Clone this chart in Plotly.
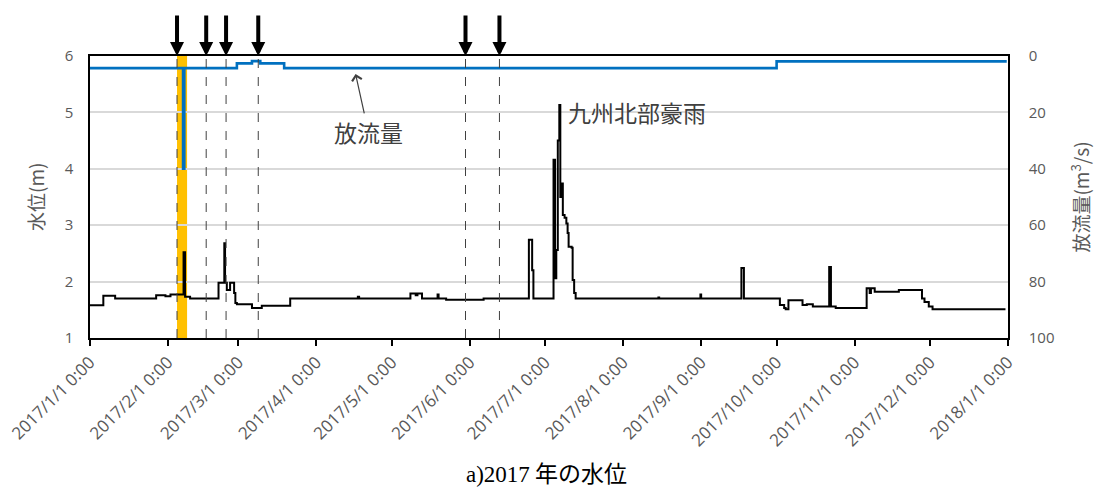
import pandas as pd
import plotly.graph_objects as go

START = pd.Timestamp("2017-01-01")

# Water level (m), day-of-year offsets from 2017/1/1 (step series)
level_day = [0, 5.3, 10.0, 26.3, 30.0, 32.0, 37.2, 37.8, 39.8, 51.1, 53.4, 53.7, 54.4, 55.7,
             57.3, 57.8, 58.4, 64.4, 68.3, 79.6, 106.5, 107.0, 127.4, 129.5, 130.2, 132.0,
             138.2, 138.6, 141.6, 156.5, 174.5, 175.8, 176.3, 184.3, 184.9, 185.4, 186.0,
             186.6, 187.0, 187.6, 188.0, 188.7, 189.4, 189.9, 190.3, 191.5, 191.9, 192.5,
             193.1, 226.0, 226.3, 242.7, 243.0, 259.0, 260.0, 274.3, 276.0, 276.6, 277.7,
             283.3, 285.0, 287.4, 293.9, 294.6, 296.5, 308.8, 310.0, 310.5, 312.0, 321.6,
             330.8, 331.8, 333.5, 335.0, 364.0]
level_m = [1.58, 1.75, 1.70, 1.76, 1.74, 1.77, 2.52, 1.73, 1.70, 1.98, 2.68, 1.98, 1.85, 1.98,
           1.80, 1.62, 1.60, 1.53, 1.57, 1.70, 1.73, 1.70, 1.79, 1.76, 1.79, 1.70,
           1.77, 1.70, 1.68, 1.70, 2.74, 2.20, 1.70, 4.16, 2.06, 2.56, 4.50,
           5.13, 3.50, 3.74, 3.18, 3.13, 3.03, 2.86, 2.62, 2.60, 2.03, 1.80,
           1.70, 1.72, 1.70, 1.77, 1.70, 2.24, 1.70, 1.585, 1.53, 1.51, 1.67,
           1.585, 1.60, 1.56, 2.26, 1.56, 1.53, 1.88, 1.80, 1.88, 1.82, 1.85,
           1.70, 1.64, 1.56, 1.51, 1.51]

# Discharge (m3/s), right axis (reversed)
flow_day = [0, 37.0, 37.5, 58.4, 64.4, 67.7, 77.2, 273.0, 364.5]
flow_q = [4.3, 40.0, 4.3, 2.6, 1.8, 2.6, 4.3, 1.9, 1.9]

# Event markers
arrow_day = [34.6, 46.2, 54.1, 66.9, 149.3, 162.8]
band_day = [34.6, 38.6]

month_ticks = pd.date_range("2017-01-01", "2018-01-01", freq="MS")
tick_text = [f"{d.year}/{d.month}/{d.day} 0:00" for d in month_ticks]


def to_dt(days):
    return [START + pd.Timedelta(days=d) for d in days]


GRAY = "#595959"
CJK = "Noto Sans CJK JP"
NUM = "Open Sans"

fig = go.Figure()

fig.add_trace(go.Scatter(x=to_dt(level_day), y=level_m, mode="lines",
                         line=dict(color="black", width=2, shape="hv"),
                         showlegend=False))
fig.add_trace(go.Scatter(x=to_dt(flow_day), y=flow_q, mode="lines", yaxis="y2",
                         line=dict(color="#0070C0", width=2.6, shape="hv"),
                         showlegend=False))

b0, b1 = to_dt(band_day)
fig.add_shape(type="rect", xref="x", yref="y domain", x0=b0, x1=b1, y0=0, y1=1,
              fillcolor="#FFC000", line=dict(width=0), layer="below")

for d in to_dt(arrow_day):
    fig.add_shape(type="line", xref="x", yref="y domain", x0=d, x1=d, y0=0, y1=1,
                  line=dict(color="#404040", width=1, dash="dash"), layer="above")
    fig.add_annotation(x=d, y=1, xref="x", yref="paper", ax=0, ay=-42, text="",
                       showarrow=True, arrowhead=2, arrowsize=0.7, arrowwidth=4,
                       arrowcolor="black", standoff=0)

fig.add_annotation(x=to_dt([189.1])[0], y=5.0, xref="x", yref="y", text="九州北部豪雨",
                   showarrow=False, xanchor="left", yanchor="middle",
                   font=dict(family=CJK, size=23, color="#404040"))
fig.add_annotation(x=to_dt([105.5])[0], y=6.0, xref="x", yref="y2", text="放流量",
                   showarrow=True, ax=13, ay=59, arrowhead=4, arrowwidth=1.2, arrowsize=1.6,
                   arrowcolor="#404040", standoff=1,
                   font=dict(family=CJK, size=23, color="#404040"))

# axis titles
fig.add_annotation(x=-0.06, y=0.5, xref="paper", yref="paper", text="水位(m)",
                   textangle=-90, showarrow=False, xanchor="center", yanchor="middle",
                   font=dict(family=CJK, size=19, color=GRAY))
fig.add_annotation(x=1.078, y=0.5, xref="paper", yref="paper", text="放流量(m<sup>3</sup>/s)",
                   textangle=-90, showarrow=False, xanchor="center", yanchor="middle",
                   font=dict(family=CJK, size=19, color=GRAY))

# caption
fig.add_annotation(x=0.497, y=-0.475, xref="paper", yref="paper",
                   text="<span style='font-family:Liberation Serif'>a)2017</span> 年の水位",
                   showarrow=False, xanchor="center", yanchor="middle",
                   font=dict(family=CJK, size=23, color="black"))

fig.update_layout(
    width=1094, height=488,
    margin=dict(l=90, r=86, t=56, b=150, autoexpand=False),
    plot_bgcolor="white", paper_bgcolor="white",
    xaxis=dict(range=[month_ticks[0], month_ticks[-1]], tickvals=list(month_ticks),
               ticktext=tick_text, tickangle=-45, ticks="outside", ticklen=6,
               tickcolor="black", tickwidth=1.5, showline=True, linecolor="black",
               linewidth=1.5, mirror=True, showgrid=False, zeroline=False, automargin=False,
               tickfont=dict(family=NUM, size=17, color=GRAY)),
    yaxis=dict(range=[1, 6], dtick=1, showgrid=True, gridcolor="#d9d9d9", gridwidth=1.5,
               showline=True, linecolor="black", linewidth=1.5, zeroline=False,
               ticks="", ticklabelstandoff=12, automargin=False,
               tickfont=dict(family=NUM, size=15, color=GRAY)),
    yaxis2=dict(range=[100, 0], dtick=20, overlaying="y", side="right", showgrid=False,
                showline=True, linecolor="black", linewidth=1.5, zeroline=False,
                ticks="", ticklabelstandoff=16, automargin=False,
                tickfont=dict(family=NUM, size=15, color=GRAY)),
)

fig.write_html("out.html", config={"displayModeBar": False},
               post_script="document.body.style.margin='0px';")
